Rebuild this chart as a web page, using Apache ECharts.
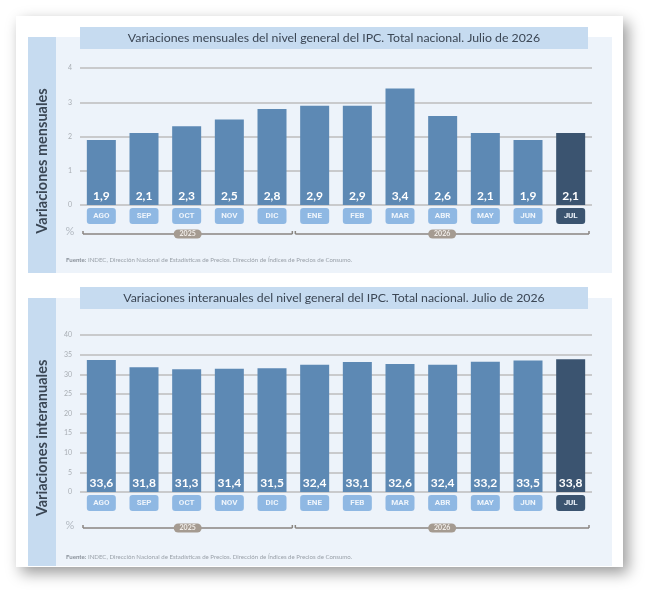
<!DOCTYPE html>
<html>
<head>
<meta charset="utf-8">
<script src="https://cdn.jsdelivr.net/npm/echarts@6/dist/echarts.min.js"></script>
<style>
  html, body { margin: 0; padding: 0; background: #fff; }
  #chart { width: 657px; height: 600px; }
</style>
</head>
<body>
<div id="chart"></div>
<script>
// datos
const months = ['AGO', 'SEP', 'OCT', 'NOV', 'DIC', 'ENE', 'FEB', 'MAR', 'ABR', 'MAY', 'JUN', 'JUL'];
const years = ['2025', '2025', '2025', '2025', '2025', '2026', '2026', '2026', '2026', '2026', '2026', '2026'];
const mensual = [1.9, 2.1, 2.3, 2.5, 2.8, 2.9, 2.9, 3.4, 2.6, 2.1, 1.9, 2.1];
const interanual = [33.6, 31.8, 31.3, 31.4, 31.5, 32.4, 33.1, 32.6, 32.4, 33.2, 33.5, 33.8];
const ticksMensual = [0, 1, 2, 3, 4];
const ticksInteranual = [0, 5, 10, 15, 20, 25, 30, 35, 40];

const titleTop = 'Variaciones mensuales del nivel general del IPC. Total nacional. Julio de 2026';
const titleBottom = 'Variaciones interanuales del nivel general del IPC. Total nacional. Julio de 2026';
const fuente = 'INDEC, Dirección Nacional de Estadísticas de Precios. Dirección de Índices de Precios de Consumo.';

const BAR = '#5d89b4';
const BAR_LAST = '#3b5470';
const PANEL = '#edf3fa';
const SIDE = '#c6dbf0';
const FONT = 'Lato, "Noto Sans", sans-serif';

const chart = echarts.init(document.getElementById('chart'));

function barData(vals) {
  return vals.map((v, i) => ({
    value: v,
    itemStyle: { color: i === vals.length - 1 ? BAR_LAST : BAR }
  }));
}

function xAxis(gridIndex) {
  const box = {
    color: '#eef4fb', width: 29, height: 16, lineHeight: 16,
    align: 'center', borderRadius: 3, fontSize: 8, fontWeight: 'bold',
    fontFamily: '"Liberation Sans Narrow", "Roboto", sans-serif'
  };
  return {
    type: 'category',
    gridIndex: gridIndex,
    data: months,
    axisLine: { show: false },
    axisTick: { show: false },
    axisLabel: {
      interval: 0,
      margin: 3,
      formatter: (v, i) => (i === months.length - 1 ? '{d|' + v + '}' : '{m|' + v + '}'),
      rich: {
        m: Object.assign({ backgroundColor: '#8fb8e3' }, box),
        d: Object.assign({ backgroundColor: BAR_LAST }, box)
      }
    }
  };
}

function yAxis(gridIndex, ticks) {
  return {
    type: 'value',
    gridIndex: gridIndex,
    min: ticks[0],
    max: ticks[ticks.length - 1],
    interval: ticks[1] - ticks[0],
    axisLine: { show: false },
    axisTick: { show: false },
    axisLabel: { color: '#a9aeb4', fontSize: 7, margin: 8, fontFamily: FONT },
    splitLine: { lineStyle: { color: '#bdbdbd', width: 1.5 } }
  };
}

function series(idx, vals) {
  return {
    type: 'bar',
    xAxisIndex: idx,
    yAxisIndex: idx,
    data: barData(vals),
    barWidth: 29,
    z: 3,
    label: {
      show: true,
      position: 'insideBottom',
      distance: 3,
      color: '#fff',
      fontSize: 12,
      fontWeight: 'bold',
      fontFamily: FONT,
      formatter: p => String(p.value).replace('.', ',')
    }
  };
}

function panelGraphics(top, bottom, titleY, title, sideText, pctY, footY) {
  return [
    { type: 'rect', z: -9, shape: { x: 28, y: top, width: 584, height: bottom - top }, style: { fill: PANEL } },
    { type: 'rect', z: -8, shape: { x: 28, y: top, width: 28, height: bottom - top }, style: { fill: SIDE } },
    { type: 'rect', z: -7, shape: { x: 80, y: titleY, width: 508, height: 22 }, style: { fill: SIDE } },
    {
      type: 'text', z: 5, x: 334, y: titleY + 11,
      style: { text: title, fill: '#3b4654', fontSize: 12.3, fontFamily: FONT, align: 'center', verticalAlign: 'middle' }
    },
    {
      type: 'text', z: 5, x: 42, y: (top + bottom) / 2 + 6, rotation: Math.PI / 2,
      style: { text: sideText, fill: '#3a4654', fontSize: 14.5, fontWeight: 'bold', fontFamily: FONT, align: 'center', verticalAlign: 'middle' }
    },
    {
      type: 'text', z: 5, x: 70, y: pctY,
      style: { text: '%', fill: '#b3bac2', fontSize: 11, fontFamily: FONT, align: 'center', verticalAlign: 'middle' }
    },
    {
      type: 'text', z: 5, x: 66, y: footY,
      style: {
        text: '{b|Fuente:} ' + fuente,
        fill: '#9aa1a9', fontSize: 6.1, fontFamily: FONT, verticalAlign: 'middle',
        rich: { b: { fontWeight: 'bold', fontSize: 6.1, fill: '#8a919a', fontFamily: FONT } }
      }
    }
  ];
}

const option = {
  animation: false,
  grid: [
    { left: 80, right: 65, top: 68, height: 137 },
    { left: 80, right: 65, top: 335, height: 157 }
  ],
  xAxis: [xAxis(0), xAxis(1)],
  yAxis: [yAxis(0, ticksMensual), yAxis(1, ticksInteranual)],
  series: [series(0, mensual), series(1, interanual)],
  graphic: [
    {
      type: 'rect', z: -10, shape: { x: 16, y: 16, width: 607, height: 551 },
      style: { fill: '#fff', shadowBlur: 14, shadowOffsetX: 5, shadowOffsetY: 6, shadowColor: 'rgba(0,0,0,0.4)' }
    }
  ]
    .concat(panelGraphics(37, 273, 27, titleTop, 'Variaciones mensuales', 231, 260))
    .concat(panelGraphics(298, 566, 287, titleBottom, 'Variaciones interanuales', 525, 557))
};

chart.setOption(option);

// corchetes de años, calculados desde el eje
function yearBrackets(gridIndex, lineY) {
  const out = [];
  const c0 = chart.convertToPixel({ xAxisIndex: gridIndex }, months[0]);
  const c1 = chart.convertToPixel({ xAxisIndex: gridIndex }, months[1]);
  const step = c1 - c0;
  let start = 0;
  for (let i = 1; i <= months.length; i++) {
    if (i === months.length || years[i] !== years[start]) {
      const left = chart.convertToPixel({ xAxisIndex: gridIndex }, months[start]) - step / 2;
      const right = chart.convertToPixel({ xAxisIndex: gridIndex }, months[i - 1]) + step / 2;
      const x1 = left + (start === 0 ? 3 : 2);
      const x2 = right - (i === months.length ? 3 : 1);
      const mid = (x1 + x2) / 2;
      const ls = { stroke: '#8a8580', lineWidth: 1.5 };
      out.push({ type: 'line', z: 4, shape: { x1: x1, y1: lineY, x2: x2, y2: lineY }, style: ls });
      out.push({ type: 'line', z: 4, shape: { x1: x1, y1: lineY, x2: x1, y2: lineY - 3 }, style: ls });
      out.push({ type: 'line', z: 4, shape: { x1: x2, y1: lineY, x2: x2, y2: lineY - 3 }, style: ls });
      out.push({
        type: 'rect', z: 5, shape: { x: mid - 14, y: lineY - 4.5, width: 28, height: 9, r: 4.5 },
        style: { fill: '#a59b91' }
      });
      out.push({
        type: 'text', z: 6, x: mid, y: lineY,
        style: { text: years[start], fill: '#f2eeea', fontSize: 7, fontWeight: 'bold', fontFamily: FONT, align: 'center', verticalAlign: 'middle' }
      });
      start = i;
    }
  }
  return out;
}

chart.setOption({
  graphic: option.graphic.concat(yearBrackets(0, 234)).concat(yearBrackets(1, 528))
});
</script>
</body>
</html>
